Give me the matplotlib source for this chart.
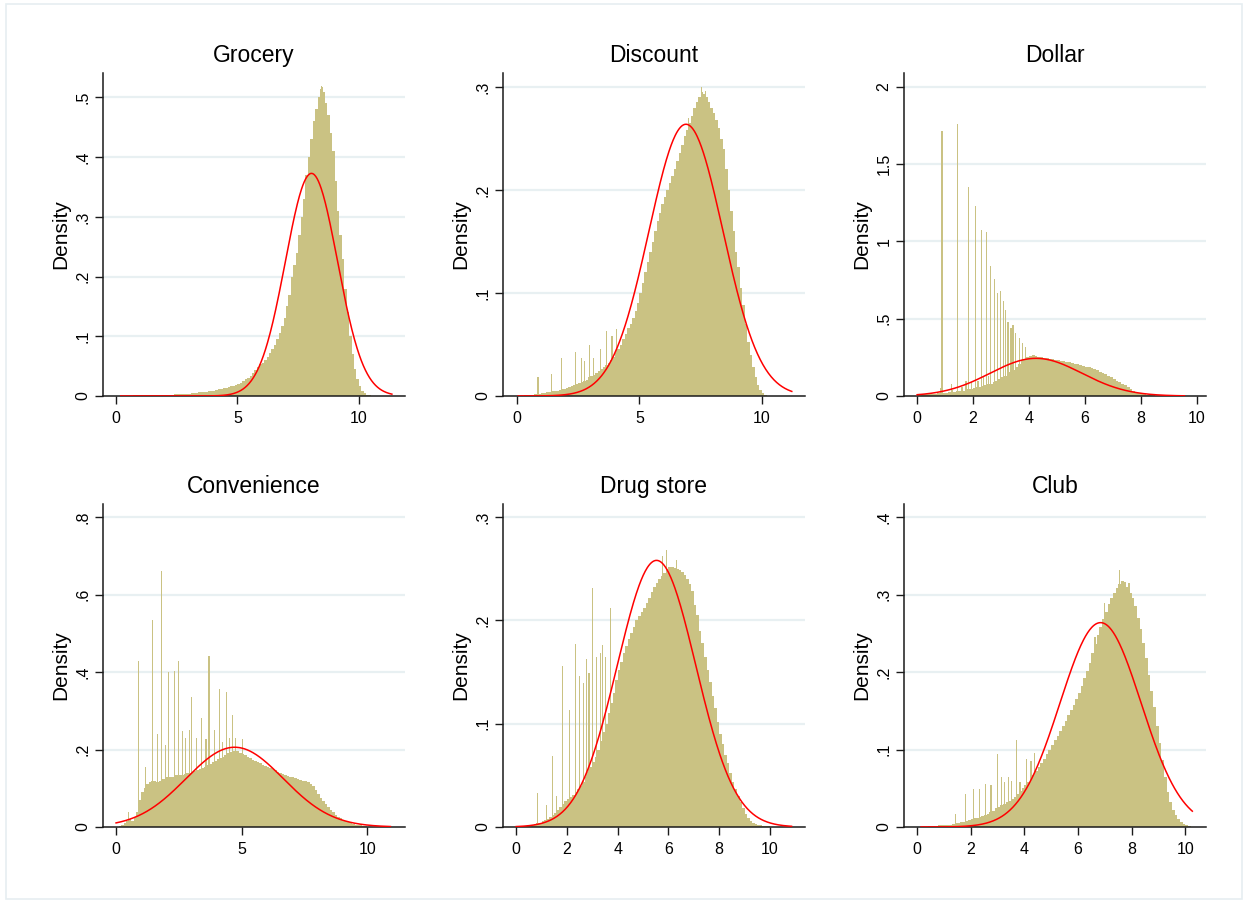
import numpy as np
import matplotlib
matplotlib.use("Agg")
import matplotlib.pyplot as plt
from matplotlib.patches import Rectangle

plt.rcParams['font.family'] = ['Liberation Sans', 'DejaVu Sans']

# ---- data (densities, bins of width 0.1 starting at 0) ----
bin_width = 0.1

titles = ['Grocery', 'Discount', 'Dollar', 'Convenience', 'Drug store', 'Club']

grocery_hist = [
    0, 0, 0.0005, 0.0005, 0.0005, 0.0008, 0.0008, 0.001, 0.001, 0.001,
    0.001, 0.0012, 0.0012, 0.0013, 0.0015, 0.0015, 0.0016, 0.0018, 0.0018, 0.002,
    0.002, 0.0022, 0.0025, 0.0025, 0.0028, 0.003, 0.003, 0.0033, 0.0035, 0.0038,
    0.004, 0.0045, 0.005, 0.0055, 0.006, 0.0065, 0.007, 0.0075, 0.008, 0.0085,
    0.009, 0.01, 0.011, 0.012, 0.013, 0.014, 0.015, 0.016, 0.017, 0.019,
    0.02, 0.022, 0.025, 0.028, 0.03, 0.033, 0.038, 0.043, 0.048, 0.053,
    0.056, 0.06, 0.066, 0.072, 0.079, 0.086, 0.095, 0.105, 0.117, 0.13,
    0.15, 0.17, 0.2, 0.22, 0.24, 0.27, 0.3, 0.33, 0.37, 0.4,
    0.43, 0.46, 0.48, 0.5, 0.515, 0.51, 0.49, 0.47, 0.44, 0.41,
    0.36, 0.31, 0.27, 0.23, 0.18, 0.14, 0.1, 0.07, 0.045, 0.028,
    0.016, 0.009, 0.005, 0.002, 0.001,
]
grocery_spike_x = [8.45, 8.52]
grocery_spike_y = [0.52, 0.518]

discount_hist = [
    0, 0.0003, 0.0003, 0.0005, 0.0005, 0.0008, 0.001, 0.0015, 0.003, 0.002,
    0.003, 0.003, 0.004, 0.004, 0.005, 0.005, 0.005, 0.006, 0.007, 0.007,
    0.008, 0.009, 0.010, 0.011, 0.012, 0.013, 0.014, 0.015, 0.016, 0.018,
    0.019, 0.020, 0.022, 0.024, 0.026, 0.028, 0.03, 0.032, 0.035, 0.038,
    0.042, 0.046, 0.05, 0.055, 0.06, 0.066, 0.07, 0.076, 0.083, 0.09,
    0.1, 0.11, 0.12, 0.13, 0.14, 0.15, 0.16, 0.17, 0.178, 0.186,
    0.193, 0.2, 0.207, 0.214, 0.22, 0.228, 0.236, 0.244, 0.252, 0.258,
    0.265, 0.272, 0.28, 0.285, 0.29, 0.295, 0.293, 0.29, 0.285, 0.28,
    0.275, 0.268, 0.26, 0.25, 0.24, 0.22, 0.2, 0.18, 0.16, 0.14,
    0.125, 0.105, 0.088, 0.07, 0.052, 0.04, 0.028, 0.018, 0.011, 0.006,
    0.003, 0.001,
]
discount_spike_x = [0.86, 1.40, 1.81, 2.40, 2.62, 2.76, 2.97, 3.13, 3.40, 3.65, 3.88, 4.05,
                    7.0, 7.55, 7.68]
discount_spike_y = [0.0187, 0.021, 0.037, 0.0427, 0.037, 0.034, 0.050, 0.037, 0.046, 0.063, 0.058, 0.065,
                    0.27, 0.30, 0.296]

dollar_hist = [
    0.005, 0.008, 0.01, 0.012, 0.012, 0.015, 0.015, 0.018, 0.05, 0.02,
    0.022, 0.025, 0.04, 0.028, 0.03, 0.03, 0.032, 0.035, 0.045, 0.045,
    0.05, 0.055, 0.06, 0.065, 0.07, 0.075, 0.08, 0.09, 0.1, 0.11,
    0.12, 0.13, 0.14, 0.155, 0.17, 0.19, 0.21, 0.225, 0.24, 0.25,
    0.258, 0.262, 0.26, 0.255, 0.25, 0.246, 0.243, 0.24, 0.237, 0.234,
    0.23, 0.227, 0.224, 0.22, 0.217, 0.213, 0.21, 0.205, 0.2, 0.195,
    0.19, 0.185, 0.18, 0.173, 0.166, 0.158, 0.15, 0.14, 0.13, 0.12,
    0.11, 0.1, 0.09, 0.08, 0.07, 0.058, 0.045, 0.035, 0.026, 0.019,
    0.014, 0.01, 0.007, 0.005, 0.004, 0.003, 0.002, 0.0015, 0.001, 0.001,
]
dollar_spike_x = [0.885, 1.22, 1.43, 1.6, 1.75, 1.83, 1.95, 2.08, 2.18, 2.30, 2.38, 2.48, 2.55,
                  2.63, 2.77, 2.88, 2.99, 3.09, 3.16, 3.25, 3.36, 3.43, 3.53, 3.65, 3.77, 3.87]
dollar_spike_y = [1.713, 0.075, 1.76, 0.06, 0.1, 1.351, 0.09, 1.228, 0.1, 1.073, 0.12, 1.06, 0.13,
                  0.84, 0.756, 0.668, 0.681, 0.612, 0.556, 0.48, 0.437, 0.459, 0.405, 0.373, 0.34, 0.319]

convenience_hist = [
    0.0, 0.002, 0.005, 0.01, 0.015, 0.02, 0.015, 0.025, 0.04, 0.07,
    0.09, 0.1, 0.11, 0.115, 0.12, 0.12, 0.115, 0.12, 0.125, 0.125,
    0.13, 0.128, 0.13, 0.135, 0.133, 0.135, 0.135, 0.137, 0.14, 0.14,
    0.142, 0.145, 0.148, 0.15, 0.153, 0.156, 0.16, 0.163, 0.167, 0.17,
    0.175, 0.178, 0.182, 0.186, 0.19, 0.193, 0.196, 0.197, 0.195, 0.192,
    0.188, 0.185, 0.182, 0.178, 0.174, 0.17, 0.167, 0.164, 0.161, 0.158,
    0.155, 0.152, 0.149, 0.146, 0.143, 0.14, 0.137, 0.134, 0.132, 0.13,
    0.128, 0.126, 0.124, 0.122, 0.12, 0.118, 0.115, 0.112, 0.105, 0.095,
    0.085, 0.076, 0.068, 0.06, 0.052, 0.045, 0.038, 0.032, 0.027, 0.022,
    0.018, 0.015, 0.012, 0.01, 0.008, 0.006, 0.005, 0.004, 0.003, 0.002,
    0.001, 0.001,
]
convenience_spike_x = [0.5, 0.885, 1.18, 1.44, 1.64, 1.81, 1.97, 2.08, 2.31, 2.47, 2.63, 2.76, 2.91,
                       2.99, 3.19, 3.39, 3.58, 3.70, 3.91, 4.10, 4.25, 4.38, 4.51, 4.62, 4.75, 5.02]
convenience_spike_y = [0.04, 0.4285, 0.154, 0.535, 0.241, 0.661, 0.211, 0.40, 0.403, 0.429, 0.247, 0.229, 0.25,
                       0.336, 0.229, 0.281, 0.227, 0.441, 0.25, 0.356, 0.22, 0.348, 0.23, 0.29, 0.23, 0.228]

drug_hist = [
    0, 0.0003, 0.0005, 0.0005, 0.0008, 0.001, 0.002, 0.003, 0.004, 0.004,
    0.006, 0.007, 0.008, 0.01, 0.012, 0.014, 0.016, 0.019, 0.022, 0.025,
    0.027, 0.029, 0.031, 0.034, 0.037, 0.04, 0.044, 0.048, 0.053, 0.058,
    0.063, 0.068, 0.075, 0.083, 0.092, 0.1, 0.11, 0.12, 0.13, 0.142,
    0.152, 0.16, 0.168, 0.175, 0.182, 0.188, 0.194, 0.2, 0.204, 0.208,
    0.212, 0.217, 0.222, 0.227, 0.232, 0.236, 0.24, 0.243, 0.246, 0.25,
    0.252, 0.252, 0.251, 0.25, 0.249, 0.247, 0.244, 0.24, 0.235, 0.228,
    0.215, 0.205, 0.19, 0.178, 0.165, 0.152, 0.14, 0.127, 0.115, 0.102,
    0.09, 0.08, 0.07, 0.062, 0.052, 0.044, 0.037, 0.03, 0.024, 0.018,
    0.013, 0.009, 0.006, 0.004, 0.003, 0.002, 0.0015, 0.001, 0.001, 0.001,
]
drug_spike_x = [0.855, 1.18, 1.42, 1.58, 1.81, 2.10, 2.33, 2.50, 2.66, 2.76, 2.87, 3.0, 3.17, 3.31,
                3.40, 3.52, 3.71, 5.75, 5.93, 6.3]
drug_spike_y = [0.0333, 0.021, 0.0688, 0.03, 0.1557, 0.113, 0.177, 0.146, 0.1395, 0.163, 0.149, 0.231, 0.165, 0.168,
                0.176, 0.165, 0.212, 0.262, 0.268, 0.258]

club_hist = [
    0, 0.0003, 0.0005, 0.0005, 0.0008, 0.001, 0.001, 0.001, 0.002, 0.002,
    0.002, 0.003, 0.003, 0.004, 0.005, 0.005, 0.006, 0.007, 0.008, 0.009,
    0.01, 0.011, 0.012, 0.013, 0.014, 0.015, 0.017, 0.019, 0.021, 0.024,
    0.026, 0.028, 0.03, 0.032, 0.034, 0.036, 0.039, 0.042, 0.046, 0.05,
    0.054, 0.058, 0.062, 0.067, 0.072, 0.077, 0.082, 0.088, 0.094, 0.1,
    0.106, 0.112, 0.118, 0.124, 0.13, 0.137, 0.144, 0.151, 0.158, 0.165,
    0.173, 0.182, 0.192, 0.202, 0.212, 0.224, 0.236, 0.248, 0.258, 0.268,
    0.278, 0.288, 0.296, 0.302, 0.308, 0.314, 0.318, 0.316, 0.31, 0.302,
    0.295, 0.285, 0.27, 0.255, 0.238, 0.218, 0.196, 0.175, 0.155, 0.13,
    0.108, 0.087, 0.065, 0.045, 0.032, 0.022, 0.015, 0.01, 0.006, 0.004,
    0.002, 0.001,
]
club_spike_x = [1.42, 1.80, 2.10, 2.32, 2.54, 2.76, 3.0, 3.16, 3.27, 3.42, 3.53, 3.71, 3.84, 4.09, 4.25, 4.38,
                6.63, 7.0, 7.54, 7.9]
club_spike_y = [0.0173, 0.0423, 0.0496, 0.049, 0.055, 0.054, 0.094, 0.064, 0.058, 0.064, 0.06, 0.1117, 0.058,
                0.088, 0.085, 0.096, 0.245, 0.289, 0.332, 0.315]

# normal overlay: mean, sd, and the data range it is drawn over
normal_mean = [8.05, 6.90, 4.25, 4.72, 5.53, 6.84]
normal_sd = [1.07, 1.512, 1.638, 1.937, 1.546, 1.512]
normal_lo = [0.2, 0.05, 0.0, 0.0, 0.0, 0.15]
normal_hi = [11.36, 11.22, 9.56, 10.92, 10.85, 10.26]

xticks = [[0, 5, 10], [0, 5, 10], [0, 2, 4, 6, 8, 10],
          [0, 5, 10], [0, 2, 4, 6, 8, 10], [0, 2, 4, 6, 8, 10]]
yticks = [[0, .1, .2, .3, .4, .5], [0, .1, .2, .3], [0, .5, 1, 1.5, 2],
          [0, .2, .4, .6, .8], [0, .1, .2, .3], [0, .1, .2, .3, .4]]
ytick_labels = [['0', '.1', '.2', '.3', '.4', '.5'], ['0', '.1', '.2', '.3'],
                ['0', '.5', '1', '1.5', '2'], ['0', '.2', '.4', '.6', '.8'],
                ['0', '.1', '.2', '.3'], ['0', '.1', '.2', '.3', '.4']]

hists = [grocery_hist, discount_hist, dollar_hist, convenience_hist, drug_hist, club_hist]
spikes = [(grocery_spike_x, grocery_spike_y), (discount_spike_x, discount_spike_y),
          (dollar_spike_x, dollar_spike_y), (convenience_spike_x, convenience_spike_y),
          (drug_spike_x, drug_spike_y), (club_spike_x, club_spike_y)]

# ---- layout (pixel boxes of the plot regions) ----
W, H = 1245, 901
boxes = [(103, 73, 405, 396), (503, 73, 805, 396), (904, 73, 1206, 396),
         (103, 504, 405, 827), (503, 504, 805, 827), (904, 504, 1206, 827)]
xlims = [(-0.53, 11.9), (-0.57, 11.76), (-0.47, 10.33),
         (-0.52, 11.5), (-0.52, 11.38), (-0.485, 10.77)]
ytops = [0.541, 0.3136, 2.089, 0.834, 0.3126, 0.417]

bar_color = '#CAC283'
grid_color = '#E8F0F2'
axis_color = '#1a1a1a'

fig = plt.figure(figsize=(W / 100, H / 100), dpi=100)
fig.patches.append(Rectangle((6 / W, 2 / H), 1236 / W, 895 / H, transform=fig.transFigure,
                             fill=False, edgecolor='#E6EEF1', linewidth=1.2))

for i in range(6):
    l, t, r, b = boxes[i]
    ax = fig.add_axes([l / W, 1 - b / H, (r - l) / W, (b - t) / H])

    heights = np.array(hists[i])
    edges = np.arange(len(heights) + 1) * bin_width
    ax.stairs(heights, edges, fill=True, color=bar_color, linewidth=0, zorder=2)
    sx, sy = spikes[i]
    ax.bar(sx, sy, width=0.045, color=bar_color, linewidth=0, zorder=2)

    xs = np.linspace(normal_lo[i], normal_hi[i], 400)
    m, s = normal_mean[i], normal_sd[i]
    ax.plot(xs, np.exp(-0.5 * ((xs - m) / s) ** 2) / (s * np.sqrt(2 * np.pi)),
            color='red', linewidth=1.1, zorder=3)

    ax.set_xlim(*xlims[i])
    ax.set_ylim(0, ytops[i])
    ax.set_xticks(xticks[i])
    ax.set_xticklabels([str(v) for v in xticks[i]], fontsize=11.5)
    ax.set_yticks(yticks[i])
    ax.set_yticklabels(ytick_labels[i], fontsize=11.5, rotation=90, va='center')

    for v in yticks[i][1:]:
        ax.axhline(v, color=grid_color, linewidth=1.6, zorder=0)

    for side in ['top', 'right']:
        ax.spines[side].set_visible(False)
    for side in ['left', 'bottom']:
        ax.spines[side].set_color(axis_color)
        ax.spines[side].set_linewidth(1.1)
    ax.tick_params(direction='out', length=6, width=1, color=axis_color, pad=3)
    ax.tick_params(axis='x', pad=5)

    ax.set_title(titles[i], fontsize=16.5, pad=8)
    ax.set_ylabel('Density', fontsize=15, labelpad=4)

fig.savefig('out.png', dpi=100, facecolor='white')
